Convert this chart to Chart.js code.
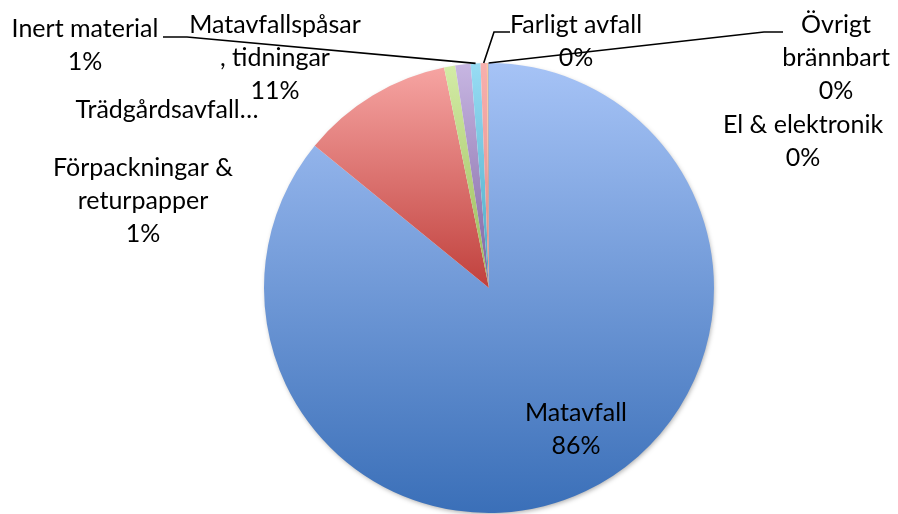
<!DOCTYPE html>
<html>
<head>
<meta charset="utf-8">
<script src="https://cdn.jsdelivr.net/npm/chart.js@4/dist/chart.umd.min.js"></script>
<style>
  html, body { margin: 0; padding: 0; background: #fff; overflow: hidden; }
  #wrap { width: 898px; height: 514px; }
</style>
</head>
<body>
<div id="wrap"><canvas id="pie" width="898" height="514"></canvas></div>
<script>
// data (percent of total)
const categories = ['Matavfall', 'Matavfallspåsar , tidningar', 'Trädgårdsavfall', 'Förpackningar & returpapper',
  'Inert material', 'Farligt avfall', 'El & elektronik', 'Övrigt brännbart'];
const shares = [85.9, 10.9, 0.8, 1.1, 0.7, 0.45, 0.1, 0.05];

// gradient colours, light (top) -> dark (bottom)
const topColors = ['#a6c3f6', '#f6a4a2', '#d3eca6', '#c7b6e2', '#98dcf4', '#f7b0ae', '#f9c9a0', '#8aa0c8'];
const bottomColors = ['#3a6fb8', '#c0403c', '#98b856', '#7d62a0', '#46a8c2', '#e08a88', '#f08c40', '#2c4d75'];

// label text lines (null = percent) and where they sit
const labelLines = [
  ['Matavfall', null],
  ['Matavfallspåsar', ', tidningar', null],
  ['Trädgårdsavfall…'],
  ['Förpackningar &', 'returpapper', null],
  ['Inert material', null],
  ['Farligt avfall', null],
  ['El & elektronik', null],
  ['Övrigt', 'brännbart', null]
];
const labelPos = [[576, 421], [275, 33], [167, 118], [143, 176], [85, 37], [576, 33], [803, 133], [836, 33]];
// leader lines: [startX, startY, elbowX, elbowY] or null
const leaders = [null, null, null, null, [163, 37, 187, 37], [510, 32, 494, 32], null, [783, 32, 764, 32]];

const total = shares.reduce((a, b) => a + b, 0);

function sliceGradient(context) {
  const chart = context.chart;
  const area = chart.chartArea;
  const i = context.dataIndex;
  if (!area) return topColors[i];
  const cx = (area.left + area.right) / 2;
  const cy = (area.top + area.bottom) / 2;
  const r = Math.min(area.right - area.left, area.bottom - area.top) / 2;
  let before = 0;
  for (let k = 0; k < i; k++) before += shares[k];
  const a0 = -Math.PI / 2 + before / total * 2 * Math.PI;
  const a1 = a0 + shares[i] / total * 2 * Math.PI;
  let ys = [cy, cy + r * Math.sin(a0), cy + r * Math.sin(a1)];
  // top / bottom extremes inside the arc
  [-Math.PI / 2, Math.PI / 2, 3 * Math.PI / 2].forEach(function (a) {
    if (a >= a0 && a <= a1) ys.push(cy + r * Math.sin(a));
  });
  const y0 = Math.min.apply(null, ys);
  const y1 = Math.max.apply(null, ys);
  const g = chart.ctx.createLinearGradient(0, y0, 0, y1 + 1);
  g.addColorStop(0, topColors[i]);
  g.addColorStop(1, bottomColors[i]);
  return g;
}

const pieShadow = {
  id: 'pieShadow',
  beforeDatasetsDraw(chart) {
    const arc = chart.getDatasetMeta(0).data[0];
    if (!arc) return;
    const p = arc.getProps(['x', 'y', 'outerRadius'], true);
    const ctx = chart.ctx;
    ctx.save();
    ctx.shadowColor = 'rgba(0,0,0,0.35)';
    ctx.shadowBlur = 5;
    ctx.shadowOffsetY = 2;
    ctx.shadowOffsetX = 1;
    ctx.fillStyle = '#ffffff';
    ctx.beginPath();
    ctx.arc(p.x, p.y, p.outerRadius - 1, 0, Math.PI * 2);
    ctx.fill();
    ctx.restore();
  }
};

const pieLabels = {
  id: 'pieLabels',
  afterDatasetsDraw(chart) {
    const ctx = chart.ctx;
    const arcs = chart.getDatasetMeta(0).data;
    ctx.save();
    ctx.strokeStyle = '#000';
    ctx.lineWidth = 1.6;
    leaders.forEach(function (l, i) {
      if (!l) return;
      const p = arcs[i].getProps(['x', 'y', 'startAngle', 'endAngle', 'outerRadius'], true);
      const mid = (p.startAngle + p.endAngle) / 2;
      ctx.beginPath();
      ctx.moveTo(l[0], l[1]);
      ctx.lineTo(l[2], l[3]);
      ctx.lineTo(p.x + Math.cos(mid) * p.outerRadius, p.y + Math.sin(mid) * p.outerRadius);
      ctx.stroke();
    });
    ctx.fillStyle = '#000';
    ctx.font = '25px Lato';
    ctx.textAlign = 'center';
    ctx.textBaseline = 'alphabetic';
    labelLines.forEach(function (lines, i) {
      lines.forEach(function (t, j) {
        const txt = t === null ? Math.round(shares[i] / total * 100) + '%' : t;
        ctx.fillText(txt, labelPos[i][0], labelPos[i][1] + j * 33);
      });
    });
    ctx.restore();
  }
};

new Chart(document.getElementById('pie').getContext('2d'), {
  type: 'pie',
  data: {
    labels: categories,
    datasets: [{
      data: shares,
      backgroundColor: sliceGradient,
      borderWidth: 0
    }]
  },
  options: {
    responsive: false,
    animation: false,
    layout: { padding: { left: 264, right: 184, top: 63, bottom: 1 } },
    plugins: {
      legend: { display: false },
      tooltip: { enabled: false }
    }
  },
  plugins: [pieShadow, pieLabels]
});
</script>
</body>
</html>
